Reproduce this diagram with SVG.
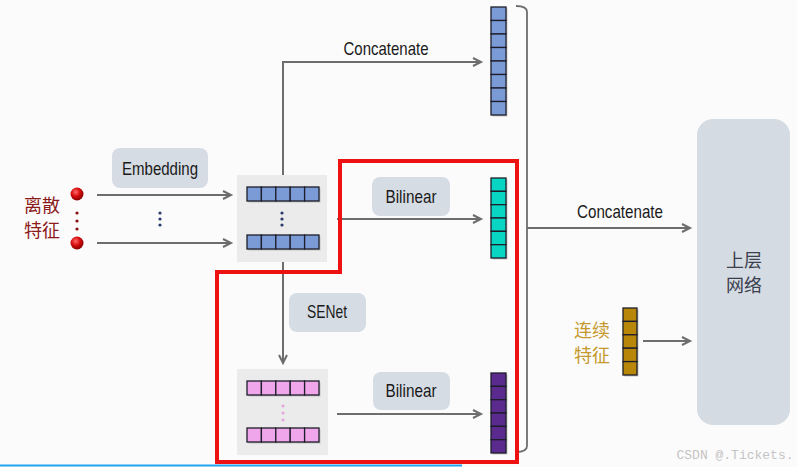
<svg xmlns="http://www.w3.org/2000/svg" width="797" height="467" viewBox="0 0 797 467">
<defs>
<style>
.lbl{fill:#d6dce4}
.t{font-family:"Liberation Sans",Arial,sans-serif;font-size:19px;fill:#1a1a1a;text-anchor:middle}
.cn{font-family:"Noto Sans CJK SC",sans-serif;font-size:18px;text-anchor:middle}
.ln{stroke:#6d6d6d;stroke-width:2;fill:none}
.cb{fill:#7b9bd7;stroke:#1e1e2a;stroke-width:1.3}
.ct{fill:#08d6c2;stroke:#1e1e2a;stroke-width:1.3}
.cp{fill:#f0a6ea;stroke:#1e1e2a;stroke-width:1.3}
.cv{fill:#5a2a8e;stroke:#1e1e2a;stroke-width:1.3}
.cg{fill:#b8870a;stroke:#1e1e2a;stroke-width:1.3}
.sh{fill:#9a9a9a;opacity:0.5}
</style>
<marker id="ar" markerWidth="12" markerHeight="12" refX="9" refY="5" orient="auto" markerUnits="userSpaceOnUse">
<path d="M1,1 L9,5 L1,9" fill="none" stroke="#6d6d6d" stroke-width="2"/>
</marker>
<radialGradient id="rd" cx="0.4" cy="0.35" r="0.65">
<stop offset="0" stop-color="#ff6a6a"/>
<stop offset="0.5" stop-color="#d80e0e"/>
<stop offset="1" stop-color="#8a0000"/>
</radialGradient>
</defs>
<rect width="797" height="467" fill="#fcfbfc"/>

<g id="connectors">
<line class="ln" x1="97" y1="195" x2="231" y2="195" marker-end="url(#ar)"/>
<line class="ln" x1="97" y1="243" x2="231" y2="243" marker-end="url(#ar)"/>
<polyline class="ln" points="283,175 283,62 481,62" marker-end="url(#ar)"/>
<line class="ln" x1="283" y1="262" x2="283" y2="363" marker-end="url(#ar)"/>
<line class="ln" x1="337" y1="219" x2="481" y2="219" marker-end="url(#ar)"/>
<line class="ln" x1="337" y1="414" x2="481" y2="414" marker-end="url(#ar)"/>
<path d="M516,6 Q527,6 527,12 L527,446 Q527,452 516,452" fill="none" stroke="#6d6d6d" stroke-width="1.8"/>
<line class="ln" x1="527" y1="228" x2="690" y2="228" marker-end="url(#ar)"/>
<line class="ln" x1="643" y1="341" x2="690" y2="341" marker-end="url(#ar)"/>
</g>

<g id="discrete">
<circle cx="77" cy="194" r="6.5" fill="url(#rd)"/>
<circle cx="77" cy="243" r="6.5" fill="url(#rd)"/>
<circle cx="77" cy="213" r="1.6" fill="#8a1010"/>
<circle cx="77" cy="221" r="1.6" fill="#8a1010"/>
<circle cx="77" cy="229" r="1.6" fill="#8a1010"/>
<text class="cn" x="42" y="212" fill="#8b1a1a">离散</text>
<text class="cn" x="42" y="237" fill="#8b1a1a">特征</text>
<circle cx="160" cy="213" r="1.6" fill="#2a3a6a"/>
<circle cx="160" cy="219" r="1.6" fill="#2a3a6a"/>
<circle cx="160" cy="225" r="1.6" fill="#2a3a6a"/>
</g>

<g id="embedding-label">
<rect class="lbl" x="112" y="148" width="96" height="40" rx="8"/>
<text class="t" x="160" y="175" textLength="76" lengthAdjust="spacingAndGlyphs">Embedding</text>
</g>

<g id="embeddings">
<rect x="237" y="175" width="90" height="87" fill="#ebebeb"/>
<rect class="sh" x="248.5" y="188.5" width="72" height="14"/>
<rect class="cb" x="247" y="187" width="14.4" height="14"/>
<rect class="cb" x="261.4" y="187" width="14.4" height="14"/>
<rect class="cb" x="275.8" y="187" width="14.4" height="14"/>
<rect class="cb" x="290.2" y="187" width="14.4" height="14"/>
<rect class="cb" x="304.6" y="187" width="14.4" height="14"/>
<circle cx="282" cy="213" r="1.6" fill="#2a3a6a"/>
<circle cx="282" cy="219" r="1.6" fill="#2a3a6a"/>
<circle cx="282" cy="225" r="1.6" fill="#2a3a6a"/>
<rect class="sh" x="248.5" y="236.5" width="72" height="14"/>
<rect class="cb" x="247" y="235" width="14.4" height="14"/>
<rect class="cb" x="261.4" y="235" width="14.4" height="14"/>
<rect class="cb" x="275.8" y="235" width="14.4" height="14"/>
<rect class="cb" x="290.2" y="235" width="14.4" height="14"/>
<rect class="cb" x="304.6" y="235" width="14.4" height="14"/>
</g>

<g id="concat-top-label">
<text class="t" x="386" y="55" textLength="85" lengthAdjust="spacingAndGlyphs">Concatenate</text>
</g>

<g id="vec-top">
<rect class="sh" x="492.5" y="8.5" width="15" height="108"/>
<rect class="cb" x="491" y="7" width="15" height="13.5"/>
<rect class="cb" x="491" y="20.5" width="15" height="13.5"/>
<rect class="cb" x="491" y="34" width="15" height="13.5"/>
<rect class="cb" x="491" y="47.5" width="15" height="13.5"/>
<rect class="cb" x="491" y="61" width="15" height="13.5"/>
<rect class="cb" x="491" y="74.5" width="15" height="13.5"/>
<rect class="cb" x="491" y="88" width="15" height="13.5"/>
<rect class="cb" x="491" y="101.5" width="15" height="13.5"/>
</g>

<g id="bilinear-top">
<rect class="lbl" x="372" y="177" width="78" height="39" rx="8"/>
<text class="t" x="411" y="203" textLength="51" lengthAdjust="spacingAndGlyphs">Bilinear</text>
</g>

<g id="vec-teal">
<rect class="sh" x="492.5" y="179.5" width="15" height="80"/>
<rect class="ct" x="491" y="178" width="15" height="13.33"/>
<rect class="ct" x="491" y="191.33" width="15" height="13.33"/>
<rect class="ct" x="491" y="204.67" width="15" height="13.33"/>
<rect class="ct" x="491" y="218" width="15" height="13.33"/>
<rect class="ct" x="491" y="231.33" width="15" height="13.33"/>
<rect class="ct" x="491" y="244.67" width="15" height="13.33"/>
</g>

<g id="senet-label">
<rect class="lbl" x="289" y="293" width="77" height="39" rx="8"/>
<text class="t" x="327" y="318" textLength="40" lengthAdjust="spacingAndGlyphs">SENet</text>
</g>

<g id="senet-embeddings">
<rect x="237" y="369" width="91" height="86" fill="#ebebeb"/>
<rect class="sh" x="248.5" y="382.5" width="72" height="14"/>
<rect class="cp" x="247" y="381" width="14.4" height="14"/>
<rect class="cp" x="261.4" y="381" width="14.4" height="14"/>
<rect class="cp" x="275.8" y="381" width="14.4" height="14"/>
<rect class="cp" x="290.2" y="381" width="14.4" height="14"/>
<rect class="cp" x="304.6" y="381" width="14.4" height="14"/>
<circle cx="283" cy="406" r="1.6" fill="#e4a6de"/>
<circle cx="283" cy="413" r="1.6" fill="#e4a6de"/>
<circle cx="283" cy="420" r="1.6" fill="#e4a6de"/>
<rect class="sh" x="248.5" y="429.5" width="72" height="14"/>
<rect class="cp" x="247" y="428" width="14.4" height="14"/>
<rect class="cp" x="261.4" y="428" width="14.4" height="14"/>
<rect class="cp" x="275.8" y="428" width="14.4" height="14"/>
<rect class="cp" x="290.2" y="428" width="14.4" height="14"/>
<rect class="cp" x="304.6" y="428" width="14.4" height="14"/>
</g>

<g id="bilinear-bottom">
<rect class="lbl" x="373" y="372" width="77" height="38" rx="8"/>
<text class="t" x="411" y="397" textLength="51" lengthAdjust="spacingAndGlyphs">Bilinear</text>
</g>

<g id="vec-purple">
<rect class="sh" x="492.5" y="374.5" width="15" height="80"/>
<rect class="cv" x="491" y="373" width="15" height="13.33"/>
<rect class="cv" x="491" y="386.33" width="15" height="13.33"/>
<rect class="cv" x="491" y="399.67" width="15" height="13.33"/>
<rect class="cv" x="491" y="413" width="15" height="13.33"/>
<rect class="cv" x="491" y="426.33" width="15" height="13.33"/>
<rect class="cv" x="491" y="439.67" width="15" height="13.33"/>
</g>

<g id="red-outline">
<polygon points="340,161 517,161 517,462 217,462 217,272 340,272" fill="none" stroke="#ee1111" stroke-width="4" stroke-linejoin="miter"/>
</g>

<g id="concat-right-label">
<text class="t" x="620" y="218" textLength="86" lengthAdjust="spacingAndGlyphs">Concatenate</text>
</g>

<g id="continuous">
<text class="cn" x="592" y="337" fill="#c49a2c">连续</text>
<text class="cn" x="592" y="362" fill="#c49a2c">特征</text>
<rect class="sh" x="624.5" y="309.5" width="14" height="67"/>
<rect class="cg" x="623" y="308" width="14" height="13.4"/>
<rect class="cg" x="623" y="321.4" width="14" height="13.4"/>
<rect class="cg" x="623" y="334.8" width="14" height="13.4"/>
<rect class="cg" x="623" y="348.2" width="14" height="13.4"/>
<rect class="cg" x="623" y="361.6" width="14" height="13.4"/>
</g>

<g id="upper-network">
<rect x="697" y="119" width="93" height="306" rx="16" fill="#d5dbe3"/>
<text class="cn" x="744" y="267" fill="#3b3f4e">上层</text>
<text class="cn" x="744" y="292" fill="#3b3f4e">网络</text>
</g>

<text x="735" y="459" font-family="'Liberation Mono','DejaVu Sans Mono',monospace" font-size="13" fill="#c4c4c4" text-anchor="middle">CSDN @.Tickets.</text>
<line x1="0" y1="465.5" x2="462" y2="465.5" stroke="#20a4f0" stroke-width="2"/>
</svg>
